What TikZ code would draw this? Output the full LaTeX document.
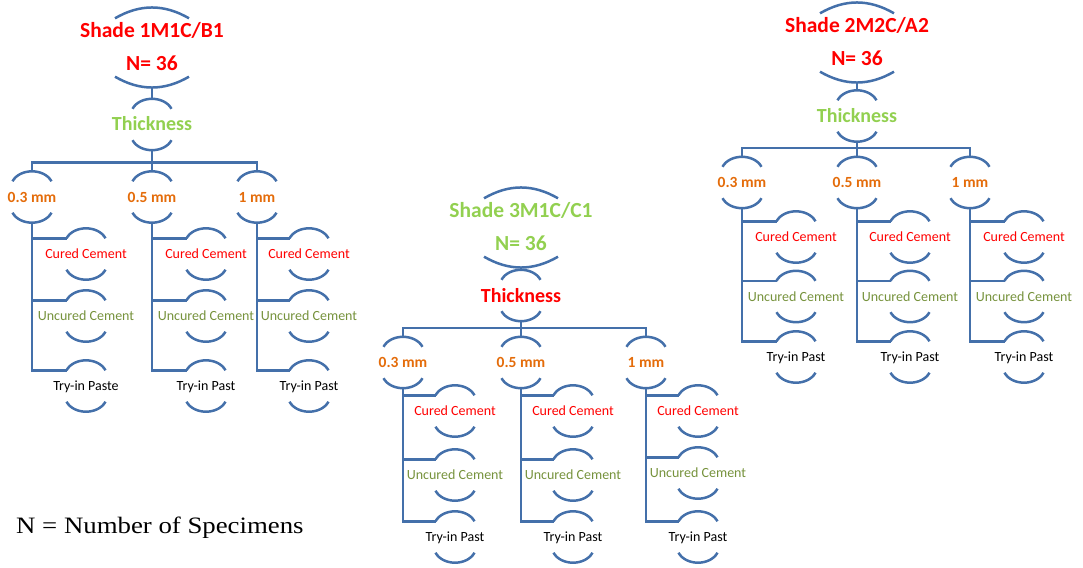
\documentclass[tikz,border=0pt]{standalone}
\usepackage{fontspec}
\usepackage{graphicx}
\setmainfont{Carlito}
\newfontfamily\notefont{Liberation Serif}
\definecolor{linkblue}{RGB}{68,112,170}
\definecolor{lightgreen}{RGB}{146,208,80}
\definecolor{mmorange}{RGB}{228,108,10}
\definecolor{uncuredgreen}{RGB}{118,146,60}

\begin{document}
\begin{tikzpicture}[x=1pt,y=1pt]
\tikzset{link/.style={draw=linkblue, line width=2.5pt}}
\tikzset{rootbox/.style={inner sep=0pt, minimum width=74pt, minimum height=80pt, align=center,
   font=\fontsize{21.5}{33}\selectfont\bfseries}}
\tikzset{thickbox/.style={inner sep=0pt, minimum height=51pt, text height=13pt, text depth=0pt,
   font=\fontsize{20}{24}\selectfont\bfseries}}
\tikzset{mmbox/.style={inner sep=0pt, minimum height=51pt, text height=10pt, text depth=0pt,
   text=mmorange, font=\fontsize{15.5}{18}\selectfont\bfseries}}
\tikzset{leafbox/.style={inner sep=0pt, minimum height=51pt, text height=9pt, text depth=0pt,
   font=\fontsize{14}{17}\selectfont}}

\useasboundingbox (0,0) rectangle (1083,-567);

% shades
\node[rootbox, text=red] (r1) at (152,-47.5) {\strut Shade 1M1C/B1\\\strut N= 36};
\node[rootbox, text=lightgreen] (r2) at (521,-227.5) {\strut Shade 3M1C/C1\\\strut N= 36};
\node[rootbox, text=red] (r3) at (857,-42.5) {\strut Shade 2M2C/A2\\\strut N= 36};

\node[thickbox, text=lightgreen] (t1) at (152,-124.5) {Thickness};
\node[thickbox, text=red] (t2) at (521,-295.5) {Thickness};
\node[thickbox, text=lightgreen] (t3) at (857,-116) {Thickness};

% thickness values
\foreach \t/\c/\x/\y/\mm in {1/1/32/197/0.3 mm, 1/2/152/197/0.5 mm, 1/3/257/197/1 mm,
                             2/1/403/362.5/0.3 mm, 2/2/521/362.5/0.5 mm, 2/3/646/362.5/1 mm,
                             3/1/742/182.5/0.3 mm, 3/2/857/182.5/0.5 mm, 3/3/970/182.5/1 mm}
   \node[mmbox] (c\t\c) at (\x,-\y) {\mm};

% cement groups
\foreach \t/\c/\x/\ya/\yb/\yc/\try in {1/1/86/254/316/386/Paste, 1/2/206/254/316/386/Past,
                                       1/3/309/254/316/386/Past,
                                       2/1/455/411/475/537/Past, 2/2/573/411/475/537/Past,
                                       2/3/698/411/473/537/Past,
                                       3/1/796/237/296.5/357/Past, 3/2/910/237/296.5/357/Past,
                                       3/3/1024/237/296.5/357/Past}{
   \node[leafbox, text=red] (g\t\c1) at (\x,-\ya) {Cured Cement};
   \node[leafbox, text=uncuredgreen] (g\t\c2) at (\x,-\yb) {Uncured Cement};
   \node[leafbox] (g\t\c3) at (\x,-\yc) {Try-in \try};
}

\node[anchor=base west, inner sep=0pt] (note) at (16,-533)
   {\notefont\fontsize{23.5}{28}\selectfont\scalebox{1.14}[1]{N = Number of Specimens}};

% brackets
\foreach \n in {r1,r2,r3}
   \draw[link] ([xshift=-37pt,yshift=-11pt]\n.north) to[bend left=30] ([xshift=37pt,yshift=-11pt]\n.north)
               ([xshift=-37pt,yshift=11pt]\n.south) to[bend right=30] ([xshift=37pt,yshift=11pt]\n.south);

\foreach \t in {1,2,3}
   \foreach \n in {t\t,c\t1,c\t2,c\t3,g\t11,g\t12,g\t13,g\t21,g\t22,g\t23,g\t31,g\t32,g\t33}
      \draw[link] ([xshift=-19.5pt,yshift=-10pt]\n.north) to[bend left=61] ([xshift=19.5pt,yshift=-10pt]\n.north)
                  ([xshift=-19.5pt,yshift=10pt]\n.south) to[bend right=61] ([xshift=19.5pt,yshift=10pt]\n.south);

% links
\foreach \t in {1,2,3}{
   \draw[link] (r\t.south) -- (t\t.north);
   \foreach \c in {1,2,3}{
      \draw[link] (c\t\c.north) -- ++(0,9) -| (t\t.south);
      \foreach \g in {1,2,3}
         \draw[link] (c\t\c.south) |- ([xshift=-19.5pt,yshift=-10pt]g\t\c\g.north);
   }
}
\end{tikzpicture}
\end{document}
